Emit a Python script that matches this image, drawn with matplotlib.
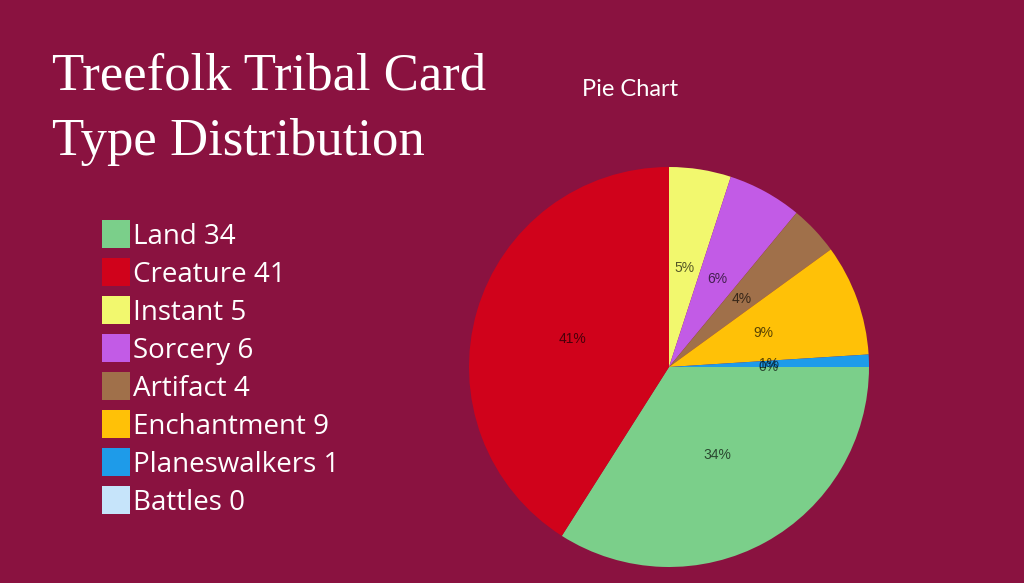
import matplotlib
matplotlib.use("Agg")
import matplotlib.pyplot as plt
from matplotlib.patches import Rectangle

categories = ["Land", "Creature", "Instant", "Sorcery", "Artifact", "Enchantment", "Planeswalkers", "Battles"]
values = [34, 41, 5, 6, 4, 9, 1, 0]
colors = ["#7BCF8A", "#D0021B", "#F2F86E", "#C25BE6", "#A0704A", "#FFC107", "#1E9BE9", "#C6E4FA"]
title_lines = ["Treefolk Tribal Card", "Type Distribution"]
chart_title = "Pie Chart"
bg = "#8A1240"

W, H = 1024, 583
fig = plt.figure(figsize=(W / 100, H / 100), dpi=100, facecolor=bg)

# Title
fig.text(52 / W, 1 - 77 / H, title_lines[0], color="white", fontsize=38,
         family="Liberation Serif", va="center", ha="left")
fig.text(52 / W, 1 - 142 / H, title_lines[1], color="white", fontsize=38,
         family="Liberation Serif", va="center", ha="left")

fig.text(630 / W, 1 - 89 / H, chart_title, color="white", fontsize=17,
         family="Lato", va="center", ha="center")

# Legend
y0, dy = 234, 38
for i, (c, v, col) in enumerate(zip(categories, values, colors)):
    y = y0 + i * dy
    fig.patches.append(Rectangle((102 / W, 1 - (y + 14) / H), 28 / W, 28 / H,
                                 transform=fig.transFigure, facecolor=col,
                                 edgecolor="none"))
    fig.text(133 / W, 1 - (y + 3) / H, f"{c} {v}", color="white", fontsize=20,
             family="Open Sans", va="center", ha="left")

# Pie
cx, cy, r = 669, 367, 200
ax = fig.add_axes([(cx - r) / W, (H - cy - r) / H, 2 * r / W, 2 * r / H])
ax.set_facecolor("none")
wedges, texts, autotexts = ax.pie(values, colors=colors, startangle=0, counterclock=False,
                                  autopct="%.0f%%", pctdistance=0.5, radius=1,
                                  wedgeprops=dict(linewidth=0),
                                  textprops=dict(color=(0, 0, 0, 0.65), fontsize=10,
                                                 family="Liberation Sans"))
ax.set_xlim(-1, 1)
ax.set_ylim(-1, 1)
ax.set_aspect("equal")
ax.axis("off")

fig.savefig("out.png", dpi=100, facecolor=bg)
